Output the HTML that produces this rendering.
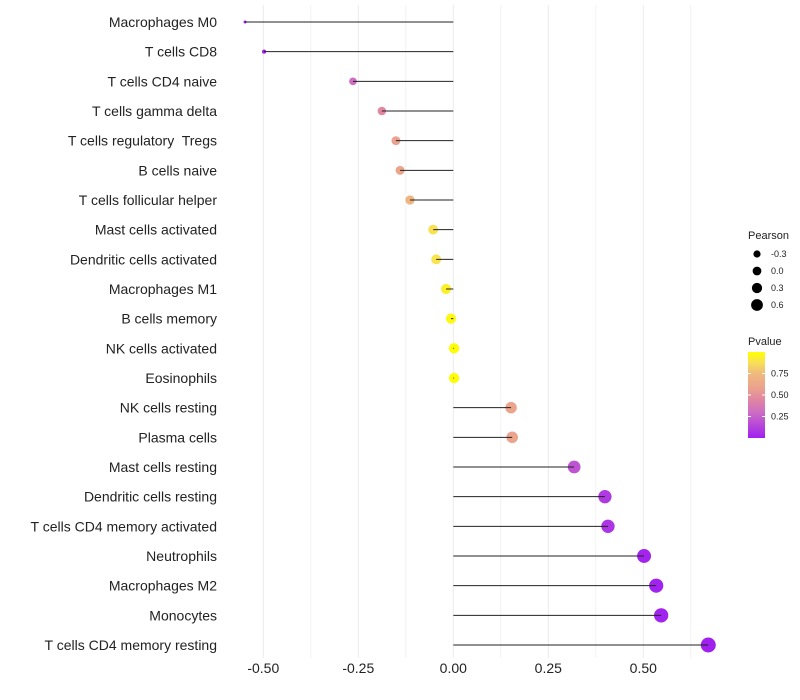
<!DOCTYPE html>
<html><head><meta charset="utf-8"><style>body{margin:0;background:#fff}svg{display:block;font-family:"Liberation Sans",sans-serif}text{white-space:pre}</style></head>
<body>
<svg id="c" width="800" height="700"></svg>
<script>
const categories=["Macrophages M0","T cells CD8","T cells CD4 naive","T cells gamma delta","T cells regulatory  Tregs","B cells naive","T cells follicular helper","Mast cells activated","Dendritic cells activated","Macrophages M1","B cells memory","NK cells activated","Eosinophils","NK cells resting","Plasma cells","Mast cells resting","Dendritic cells resting","T cells CD4 memory activated","Neutrophils","Macrophages M2","Monocytes","T cells CD4 memory resting"];
const pearson=[-0.548,-0.498,-0.264,-0.188,-0.151,-0.14,-0.114,-0.053,-0.045,-0.019,-0.006,0.002,0.002,0.152,0.155,0.318,0.399,0.407,0.502,0.534,0.547,0.671];
const pvalues=[0.001,0.002,0.3,0.45,0.58,0.6,0.72,0.88,0.89,0.94,0.97,0.99,0.99,0.6,0.6,0.2,0.1,0.08,0.02,0.01,0.01,0.001];
const xTicks=[-0.5,-0.25,0,0.25,0.5];
const xTickLabels=["-0.50","-0.25","0.00","0.25","0.50"];
const xMinor=[-0.375,-0.125,0.125,0.375,0.625];
const sizeLegend=[-0.3,0.0,0.3,0.6];
const sizeLegendLabels=["-0.3","0.0","0.3","0.6"];
const pTicks=[0.25,0.5,0.75];
const pTickLabels=["0.25","0.50","0.75"];

const NS="http://www.w3.org/2000/svg",svg=document.getElementById('c');
const X=v=>453.3+v*380;
const Y=i=>22+i*(623/21);
const R=v=>Math.sqrt(Math.max(0.5,2.25+(v+0.55)*44.2));
const RL=v=>3.6+2.3*(v+0.3)/0.9;
const stops=[[0,[160,32,240]],[0.3,[205,110,195]],[0.45,[225,135,160]],[0.6,[235,165,140]],[0.75,[240,185,125]],[0.88,[248,225,85]],[1,[255,255,0]]];
function col(p){for(let i=1;i<stops.length;i++){if(p<=stops[i][0]){const a=stops[i-1],b=stops[i],t=(p-a[0])/(b[0]-a[0]);return 'rgb('+a[1].map((c,k)=>Math.round(c+(b[1][k]-c)*t)).join(',')+')';}}return 'rgb(255,255,0)';}
function el(t,a,txt){const e=document.createElementNS(NS,t);for(const k in a)e.setAttribute(k,a[k]);if(txt!=null)e.textContent=txt;svg.appendChild(e);return e;}
xMinor.forEach(v=>{const e=el('line',{x1:X(v),x2:X(v),y1:5,y2:658,stroke:'#f2f2f2','stroke-width':1});

});
xTicks.forEach((v,i)=>{const e=el('line',{x1:X(v),x2:X(v),y1:5,y2:658,stroke:'#ebebeb','stroke-width':1});


const t=el('text',{x:X(v),y:673,'text-anchor':'middle','font-size':14,fill:'#222'},xTickLabels[i]);

});
categories.forEach((c,i)=>{const y=Y(i);
const t=el('text',{x:217,y:y+5,'text-anchor':'end','font-size':14,fill:'#222'},c);


const p=el('circle',{cx:X(pearson[i]),cy:y,r:R(pearson[i]),fill:col(pvalues[i])});


const l=el('line',{x1:X(0),x2:X(pearson[i]),y1:y,y2:y,stroke:'#222','stroke-width':1});

});
let t=el('text',{x:748,y:239,'font-size':11,fill:'#222'},'Pearson');


sizeLegend.forEach((v,i)=>{const y=254+i*17;
const c=el('circle',{cx:757,cy:y,r:RL(v),fill:'#000'});


const tt=el('text',{x:771,y:y+3,'font-size':9,fill:'#222'},sizeLegendLabels[i]);

});
t=el('text',{x:748,y:345,'font-size':11,fill:'#222'},'Pvalue');


const defs=el('defs',{});const g=document.createElementNS(NS,'linearGradient');g.setAttribute('id','pg');g.setAttribute('x1','0');g.setAttribute('y1','1');g.setAttribute('x2','0');g.setAttribute('y2','0');defs.appendChild(g);
stops.forEach(s=>{const st=document.createElementNS(NS,'stop');st.setAttribute('offset',s[0]);st.setAttribute('stop-color','rgb('+s[1].join(',')+')');g.appendChild(st);});
const PY=p=>438-p*86;
const bar=el('rect',{x:748,y:352,width:17,height:86,fill:'url(#pg)'});


pTicks.forEach((v,i)=>{const y=PY(v);
el('line',{x1:748,x2:751,y1:y,y2:y,stroke:'#fff'});el('line',{x1:762,x2:765,y1:y,y2:y,stroke:'#fff'});
const tt=el('text',{x:771,y:y+3,'font-size':9,fill:'#222'},pTickLabels[i]);

});
</script>
</body></html>
